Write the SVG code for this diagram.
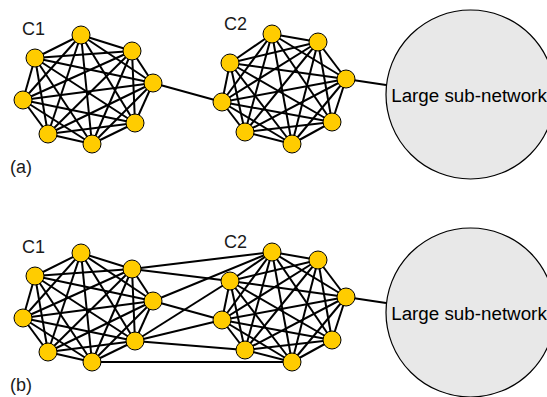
<svg xmlns="http://www.w3.org/2000/svg" xmlns:xlink="http://www.w3.org/1999/xlink" width="547" height="397" viewBox="0 0 547 397">
<style>
.e{stroke:#000;stroke-width:2;fill:none}
.n{fill:#ffcc00;stroke:#000;stroke-width:1}
.big{fill:#e8e8e8;stroke:#000;stroke-width:1.2}
.t{font-family:"Liberation Sans",Arial,sans-serif;font-size:18px;fill:#1a1a1a}
.tl{font-family:"Liberation Sans",Arial,sans-serif;font-size:18.8px;fill:#000}
</style>
<defs>
<g id="k1" class="e">
<line x1="81" y1="35" x2="132" y2="51"/><line x1="81" y1="35" x2="153" y2="83"/><line x1="81" y1="35" x2="135" y2="123"/><line x1="81" y1="35" x2="92" y2="144"/><line x1="81" y1="35" x2="48" y2="134"/><line x1="81" y1="35" x2="23" y2="100"/><line x1="81" y1="35" x2="35" y2="58"/>
<line x1="132" y1="51" x2="153" y2="83"/><line x1="132" y1="51" x2="135" y2="123"/><line x1="132" y1="51" x2="92" y2="144"/><line x1="132" y1="51" x2="48" y2="134"/><line x1="132" y1="51" x2="23" y2="100"/><line x1="132" y1="51" x2="35" y2="58"/>
<line x1="153" y1="83" x2="135" y2="123"/><line x1="153" y1="83" x2="92" y2="144"/><line x1="153" y1="83" x2="48" y2="134"/><line x1="153" y1="83" x2="23" y2="100"/><line x1="153" y1="83" x2="35" y2="58"/>
<line x1="135" y1="123" x2="92" y2="144"/><line x1="135" y1="123" x2="48" y2="134"/><line x1="135" y1="123" x2="23" y2="100"/><line x1="135" y1="123" x2="35" y2="58"/>
<line x1="92" y1="144" x2="48" y2="134"/><line x1="92" y1="144" x2="23" y2="100"/><line x1="92" y1="144" x2="35" y2="58"/>
<line x1="48" y1="134" x2="23" y2="100"/><line x1="48" y1="134" x2="35" y2="58"/>
<line x1="23" y1="100" x2="35" y2="58"/>
</g>
<g id="k2" class="e">
<line x1="272" y1="34" x2="318" y2="42"/><line x1="272" y1="34" x2="346" y2="79"/><line x1="272" y1="34" x2="332" y2="122"/><line x1="272" y1="34" x2="292" y2="144"/><line x1="272" y1="34" x2="245" y2="132"/><line x1="272" y1="34" x2="222" y2="102"/><line x1="272" y1="34" x2="230" y2="63"/>
<line x1="318" y1="42" x2="346" y2="79"/><line x1="318" y1="42" x2="332" y2="122"/><line x1="318" y1="42" x2="292" y2="144"/><line x1="318" y1="42" x2="245" y2="132"/><line x1="318" y1="42" x2="222" y2="102"/><line x1="318" y1="42" x2="230" y2="63"/>
<line x1="346" y1="79" x2="332" y2="122"/><line x1="346" y1="79" x2="292" y2="144"/><line x1="346" y1="79" x2="245" y2="132"/><line x1="346" y1="79" x2="222" y2="102"/><line x1="346" y1="79" x2="230" y2="63"/>
<line x1="332" y1="122" x2="292" y2="144"/><line x1="332" y1="122" x2="245" y2="132"/><line x1="332" y1="122" x2="222" y2="102"/><line x1="332" y1="122" x2="230" y2="63"/>
<line x1="292" y1="144" x2="245" y2="132"/><line x1="292" y1="144" x2="222" y2="102"/><line x1="292" y1="144" x2="230" y2="63"/>
<line x1="245" y1="132" x2="222" y2="102"/><line x1="245" y1="132" x2="230" y2="63"/>
<line x1="222" y1="102" x2="230" y2="63"/>
</g>
</defs>
<rect width="547" height="397" fill="#fff"/>
<g id="big-a"><circle class="big" cx="470.5" cy="94.5" r="84.5"/><text class="tl" x="469" y="102" text-anchor="middle">Large sub-network</text></g>
<g id="big-b"><circle class="big" cx="470.5" cy="312.5" r="84.5"/><text class="tl" x="469" y="320" text-anchor="middle">Large sub-network</text></g>
<g id="connectors">
<use xlink:href="#k1"/>
<use xlink:href="#k2"/>
<use xlink:href="#k1" y="218"/>
<use xlink:href="#k2" y="218"/>
<g class="e">
<line x1="153" y1="83" x2="222" y2="102"/>
<line x1="346" y1="79" x2="386" y2="85"/>
<line x1="346" y1="297" x2="386" y2="303"/>
<line x1="132" y1="269" x2="272" y2="252"/>
<line x1="132" y1="269" x2="230" y2="281"/>
<line x1="153" y1="301" x2="272" y2="252"/>
<line x1="153" y1="301" x2="222" y2="320"/>
<line x1="135" y1="341" x2="230" y2="281"/>
<line x1="135" y1="341" x2="222" y2="320"/>
<line x1="135" y1="341" x2="245" y2="350"/>
<line x1="92" y1="362" x2="292" y2="362"/>
</g>
</g>
<g id="c1a">
<circle class="n" cx="81" cy="35" r="9"/><circle class="n" cx="132" cy="51" r="9"/><circle class="n" cx="153" cy="83" r="9"/><circle class="n" cx="135" cy="123" r="9"/><circle class="n" cx="92" cy="144" r="9"/><circle class="n" cx="48" cy="134" r="9"/><circle class="n" cx="23" cy="100" r="9"/><circle class="n" cx="35" cy="58" r="9"/>
</g>
<g id="c2a">
<circle class="n" cx="272" cy="34" r="9"/><circle class="n" cx="318" cy="42" r="9"/><circle class="n" cx="346" cy="79" r="9"/><circle class="n" cx="332" cy="122" r="9"/><circle class="n" cx="292" cy="144" r="9"/><circle class="n" cx="245" cy="132" r="9"/><circle class="n" cx="222" cy="102" r="9"/><circle class="n" cx="230" cy="63" r="9"/>
</g>
<g id="c1b" transform="translate(0,218)">
<circle class="n" cx="81" cy="35" r="9"/><circle class="n" cx="132" cy="51" r="9"/><circle class="n" cx="153" cy="83" r="9"/><circle class="n" cx="135" cy="123" r="9"/><circle class="n" cx="92" cy="144" r="9"/><circle class="n" cx="48" cy="134" r="9"/><circle class="n" cx="23" cy="100" r="9"/><circle class="n" cx="35" cy="58" r="9"/>
</g>
<g id="c2b" transform="translate(0,218)">
<circle class="n" cx="272" cy="34" r="9"/><circle class="n" cx="318" cy="42" r="9"/><circle class="n" cx="346" cy="79" r="9"/><circle class="n" cx="332" cy="122" r="9"/><circle class="n" cx="292" cy="144" r="9"/><circle class="n" cx="245" cy="132" r="9"/><circle class="n" cx="222" cy="102" r="9"/><circle class="n" cx="230" cy="63" r="9"/>
</g>
<g id="labels">
<text class="t" x="22" y="35">C1</text>
<text class="t" x="224" y="30">C2</text>
<text class="t" x="22" y="253">C1</text>
<text class="t" x="224" y="248">C2</text>
<text class="t" x="10" y="173">(a)</text>
<text class="t" x="10" y="391">(b)</text>
</g>
</svg>
